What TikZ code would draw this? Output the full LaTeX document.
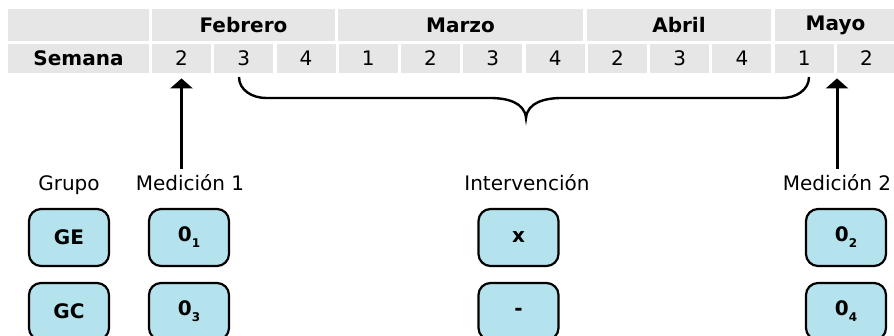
\documentclass[tikz,border=0pt]{standalone}
\usepackage{fontspec}
\setmainfont{DejaVu Sans}
\usetikzlibrary{arrows.meta}
\definecolor{cellgray}{RGB}{230,230,230}
\definecolor{boxblue}{RGB}{180,226,237}
\newcommand{\obs}[1]{0\raisebox{-3pt}{\fontsize{6}{6}\selectfont #1}}

\begin{document}
\begin{tikzpicture}[x=0.5pt,y=-0.5pt,
    cell/.style={fill=cellgray, inner sep=0pt, minimum height=14.5pt, minimum width=29.5pt},
    month/.style={fill=cellgray, inner sep=0pt, minimum height=16pt, font=\bfseries},
    grp/.style={draw=black, line width=1.1pt, rounded corners=6pt, fill=boxblue, minimum width=40pt, minimum height=28.5pt, font=\bfseries},
    lbl/.style={inner sep=1pt, anchor=base},
    arr/.style={-{Triangle[width=11pt,length=5pt]}, line width=1.5pt}]
    \useasboundingbox (0,0) rectangle (894,336);

    % table head
    \node[month, minimum width=70.5pt] (corner) at (78.5,25) {};
    \node[month, minimum width=91.5pt] (feb) at (243.5,25) {Febrero};
    \node[month, minimum width=122.5pt] (mar) at (460.5,25) {Marzo};
    \node[month, minimum width=92pt] (abr) at (679,25) {Abril};
    \node[month, minimum width=60.5pt] (may) at (835.5,25) {Mayo};
    \node[cell, minimum width=70.5pt, font=\bfseries] (semana) at (78.5,58.5) {Semana};
    \foreach \w [count=\i] in {2,3,4,1,2,3,4,2,3,4,1,2}
        \node[cell] (w\i) at ({181.5+62.27*(\i-1)},58.5) {\w};

    % labels
    \node[lbl] (grupo) at (69,191) {Grupo};
    \node[lbl] (med1) at (190,191) {Medición 1};
    \node[lbl] (interv) at (527,191) {Intervención};
    \node[lbl] (med2) at (837,191) {Medición 2};

    % groups
    \node[grp] (ge) at (69,237.5) {GE};
    \node[grp] (gc) at (69,311.5) {GC};
    \node[grp] (o1) at (189,237.5) {\obs{1}};
    \node[grp] (o3) at (189,311.5) {\obs{3}};
    \node[grp] (ix) at (518.5,237.5) {x};
    \node[grp] (inone) at (518.5,311.5) {-};
    \node[grp] (o2) at (846,237.5) {\obs{2}};
    \node[grp] (o4) at (846,311.5) {\obs{4}};

    % arrows
    \draw[arr, shorten <=2pt, shorten >=2.5pt] (w1 |- med1.north) -- (w1.south);
    \draw[arr, shorten <=2pt, shorten >=2.5pt] (med2.north) -- (med2.north |- w11.south);

    % brace
    \coordinate (brL) at (239,77);
    \coordinate (brM) at (526,118);
    \coordinate (brR) at (809,77);
    \draw[line width=1.2pt] (brL) to[out=-90,in=180] (266,98) -- (490,98)
        to[out=0,in=95] (brM) to[out=85,in=180] (562,98) -- (782,98)
        to[out=0,in=-90] (brR);
\end{tikzpicture}
\end{document}
